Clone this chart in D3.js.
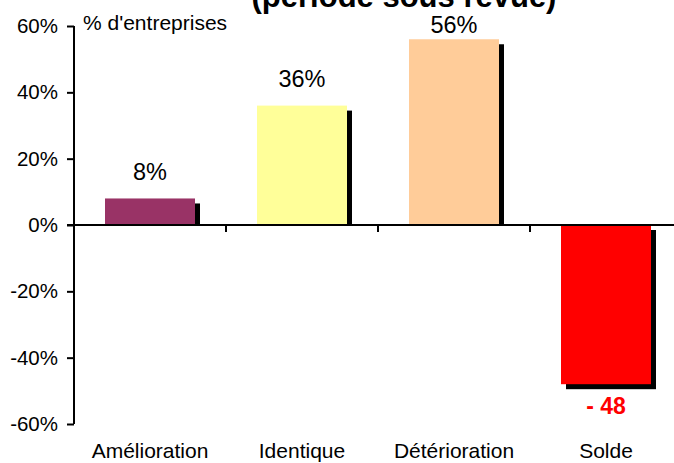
<!DOCTYPE html>
<html><head><meta charset="utf-8">
<script src="https://cdn.jsdelivr.net/npm/d3@7"></script>
<style>body{margin:0;background:#fff}svg{display:block;font-family:"Liberation Sans",Arial,sans-serif}</style>
</head><body><svg id="c" width="674" height="463"></svg>
<script>
const categories = ["Amélioration","Identique","Détérioration","Solde"];
const values = [8, 36, 56, -48];
const colors = ["#993366","#FFFF99","#FFCC99","#FF0000"];
const valueLabels = ["8%","36%","56%","- 48"];
const yTicks = [-60,-40,-20,0,20,40,60];
const title = "(période sous revue)";
const unitLabel = "% d'entreprises";

const svg = d3.select("#c");
const x = d3.scaleBand().domain(categories).range([74, 682]).paddingInner(0).paddingOuter(0);
const y = d3.scaleLinear().domain([-60, 60]).range([424, 26]);
const barW = 90;

// title (top of it lies above the picture, as in the reference)
svg.append("text").attr("x", 404).attr("y", 7).attr("text-anchor","middle")
  .attr("font-weight","bold").attr("font-size",31).text(title);

// shadows
values.forEach((v,i)=>{
  const cx = x(categories[i]) + x.bandwidth()/2;
  const top = Math.min(y(v), y(0)) + 5;
  const bottom = Math.max(y(v), y(0)) + (v < 0 ? 5 : 0);
  svg.append("rect").attr("x", cx - barW/2 + 5).attr("y", top)
    .attr("width", barW).attr("height", bottom - top).attr("fill","#000");
});
// bars
values.forEach((v,i)=>{
  const cx = x(categories[i]) + x.bandwidth()/2;
  svg.append("rect").attr("x", cx - barW/2).attr("y", Math.min(y(v), y(0)))
    .attr("width", barW).attr("height", Math.abs(y(v)-y(0))).attr("fill", colors[i]);
});

// y axis
const yAxis = d3.axisLeft(y).tickValues(yTicks).tickFormat(d=>d+"%").tickSize(7).tickPadding(9);
const gy = svg.append("g").attr("transform","translate(74,0)").call(yAxis);
gy.select(".domain").attr("stroke","#000").attr("stroke-width",2).attr("d","M0,26V424");
gy.selectAll(".tick line").attr("stroke","#000").attr("stroke-width",2);
gy.selectAll(".tick text").attr("font-size",20.5).attr("fill","#000")
  .attr("font-family","'Liberation Sans',Arial,sans-serif");

// x axis at zero
svg.append("line").attr("x1",67).attr("x2",674).attr("y1",y(0)).attr("y2",y(0))
  .attr("stroke","#000").attr("stroke-width",2);
categories.slice(1).forEach(c=>{
  svg.append("line").attr("x1",x(c)).attr("x2",x(c)).attr("y1",y(0)).attr("y2",y(0)+7)
    .attr("stroke","#000").attr("stroke-width",2);
});
categories.forEach(c=>{
  svg.append("text").attr("x", x(c)+x.bandwidth()/2).attr("y", 458).attr("text-anchor","middle")
    .attr("font-size",21).text(c);
});

// value labels
values.forEach((v,i)=>{
  const cx = x(categories[i]) + x.bandwidth()/2;
  if (v >= 0) {
    svg.append("text").attr("x", cx).attr("y", Math.max(y(v)-18.5, 33))
      .attr("text-anchor","middle").attr("font-size",23.5).text(valueLabels[i]);
  } else {
    svg.append("text").attr("x", cx).attr("y", y(v)+30)
      .attr("text-anchor","middle").attr("font-size",23).attr("font-weight","bold")
      .attr("fill","#FF0000").text(valueLabels[i]);
  }
});

svg.append("text").attr("x",83).attr("y",30).attr("font-size",21).text(unitLabel);
</script></body></html>
